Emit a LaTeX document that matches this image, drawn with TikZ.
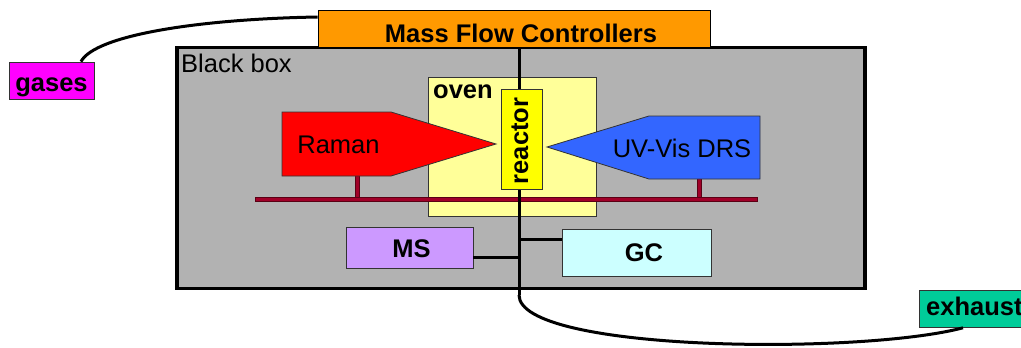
\documentclass[tikz,border=0pt]{standalone}
\usepackage{fontspec}
\setmainfont{Liberation Sans}
\begin{document}
\begin{tikzpicture}[x=1pt,y=-1pt,
  bx/.style={draw=black!80, line width=0.8pt, inner sep=0pt},
  lbl/.style={font=\fontsize{25.5}{30}\selectfont, inner sep=0pt, anchor=base},
  blbl/.style={lbl, font=\fontsize{25.5}{30}\selectfont\bfseries},
  pipe/.style={line width=3pt, black},
  railc/.style={fill={rgb,255:red,160;green,0;blue,40}, draw={rgb,255:red,90;green,0;blue,20}, line width=0.6pt}]
\useasboundingbox (0,0) rectangle (1021,348);
\definecolor{mfcor}{RGB}{255,153,0}
\definecolor{bgray}{RGB}{178,178,178}
\definecolor{ovenc}{RGB}{255,255,153}
\definecolor{uvb}{RGB}{51,102,255}
\definecolor{msc}{RGB}{204,153,255}
\definecolor{gcc}{RGB}{204,255,255}
\definecolor{exc}{RGB}{0,204,153}
\definecolor{gasc}{RGB}{255,0,255}
\definecolor{reacc}{RGB}{255,255,0}
\definecolor{ramc}{RGB}{255,0,0}
% black box
\node[draw=black, line width=3.5pt, fill=bgray, minimum width=688pt, minimum height=241pt, inner sep=0pt] (bb) at (521,168) {};
\node[lbl, anchor=base west] (bbt) at (181,72) {Black box};
% oven
\node[bx, fill=ovenc, minimum width=168pt, minimum height=139pt] (oven) at (512,146.5) {};
\node[blbl, anchor=base west] (ovent) at (433,98) {oven};
% pipe
\coordinate (ptop) at (519,47);
\coordinate (pbot) at (519,295);
\coordinate (pms) at (519,257);
\coordinate (pgc) at (519,239);
% Raman and UV-Vis
\draw[railc] (355,170) rectangle (359,199);
\draw[railc] (697,170) rectangle (701,199);
\draw[railc] (255,197) rectangle (757,201);
\draw[bx, fill=ramc] (282,112) -- (391,112) -- (496,144) -- (391,176) -- (282,176) -- cycle;
\node[lbl] (raman) at (338.5,153) {Raman};
\draw[bx, fill=uvb] (760,116) -- (649,116) -- (547,147) -- (649,179) -- (760,179) -- cycle;
\node[lbl] (uv) at (682,157) {UV-Vis DRS};
\draw[pipe] (ptop) -- (pbot);
% reactor
\node[bx, fill=reacc, minimum width=41pt, minimum height=100pt] (reactor) at (521.5,139) {};
\node[blbl, rotate=90] (reactort) at (528,141) {reactor};
% MS, GC
\node[bx, fill=msc, minimum width=127pt, minimum height=41pt] (ms) at (409.5,247.5) {};
\node[blbl] (mst) at (411.5,257) {MS};
\node[bx, fill=gcc, minimum width=149pt, minimum height=47pt] (gc) at (636.5,252.5) {};
\node[blbl] (gct) at (644,261) {GC};
\draw[pipe] (ms.east |- pms) -- (pms);
\draw[pipe] (pgc) -- (gc.west |- pgc);
% MFC
\node[bx, draw=black, fill=mfcor, minimum width=392pt, minimum height=37pt] (mfc) at (514,28.5) {};
\node[blbl] (mfct) at (521,42) {Mass Flow Controllers};
% gases
\node[bx, fill=gasc, minimum width=85pt, minimum height=37pt] (gases) at (51.5,80.5) {};
\node[blbl] (gasest) at (51.5,91) {gases};
\draw[pipe] (gases.north -| 81,0) .. controls (95,35) and (200,19) .. (mfc.west |- 0,17);
% exhaust
\node[bx, fill=exc, minimum width=115pt, minimum height=37pt, anchor=north west] (exhaust) at (919,290) {};
\node[blbl, anchor=base west] (exht) at (926,315) {exhaust};
\draw[pipe] (pbot) .. controls (519,352) and (860,355) .. (exhaust.south -| 963,0);
\end{tikzpicture}
\end{document}
